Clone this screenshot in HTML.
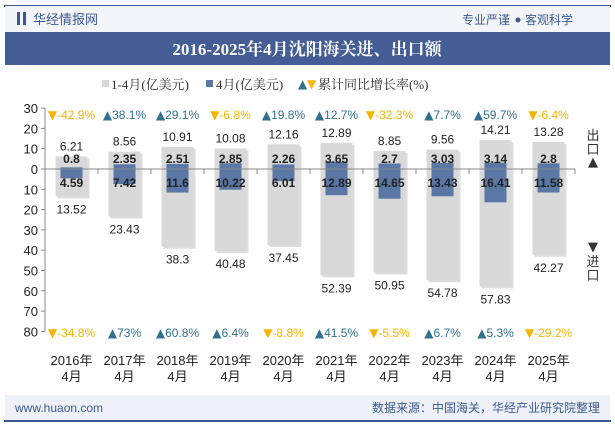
<!DOCTYPE html>
<html><head><meta charset="utf-8"><style>
body{margin:0;width:615px;height:427px;background:#fff;overflow:hidden;font-family:"Liberation Sans","Noto Sans CJK SC",sans-serif}
svg{position:absolute;left:0;top:0}
.tri{font-family:"DejaVu Sans",sans-serif}
</style></head><body>
<svg id="c" width="615" height="427">
<rect x="4" y="5" width="607" height="2" fill="#3d5a8f"/>
<rect x="5" y="6" width="605" height="26" fill="#f3f5fa"/>
<rect x="17" y="12" width="3" height="13" fill="#3d5a8f"/>
<rect x="23" y="12" width="3" height="13" fill="#3d5a8f"/>
<text x="33" y="24" font-size="13" fill="#3d5a8f">华经情报网</text>
<text x="510" y="24" font-size="12" fill="#3d5a8f" text-anchor="end">专业严谨</text>
<circle cx="518" cy="20" r="2.5" fill="#3d5a8f"/>
<text x="525" y="24" font-size="12" fill="#3d5a8f">客观科学</text>
<rect x="5" y="32" width="605" height="33" fill="#445d94"/>
<text x="307" y="55" font-size="17" font-weight="bold" fill="#fff" text-anchor="middle" font-family="Liberation Serif,Noto Serif CJK SC,serif">2016-2025年4月沈阳海关进、出口额</text>
<g font-family="Liberation Serif,Noto Serif CJK SC,serif">
<rect x="102" y="80" width="7" height="7" fill="#d9d9d9"/>
<text x="111" y="89" font-size="13" fill="#333">1-4月(亿美元)</text>
<rect x="206" y="80" width="7" height="7" fill="#5b77a5"/>
<text x="216" y="89" font-size="13" fill="#333">4月(亿美元)</text>
<text x="298" y="88" font-size="12" class="tri" fill="#31708f">▲</text>
<text x="307" y="88" font-size="12" class="tri" fill="#f7b500">▼</text>
<text x="318" y="89" font-size="13" fill="#333">累计同比增长率(%)</text>
</g>
<g id="plot"></g>
<text x="593" y="140" font-size="13" fill="#333" text-anchor="middle">出</text>
<text x="593" y="154" font-size="13" fill="#333" text-anchor="middle">口</text>
<text x="593" y="166" font-size="13" class="tri" fill="#333" text-anchor="middle">▲</text>
<text x="593" y="251" font-size="13" class="tri" fill="#333" text-anchor="middle">▼</text>
<text x="593" y="266" font-size="13" fill="#333" text-anchor="middle">进</text>
<text x="593" y="280" font-size="13" fill="#333" text-anchor="middle">口</text>
<rect x="5" y="395" width="605" height="25" fill="#eef1f8"/>
<rect x="4" y="420" width="607" height="2" fill="#3d5a8f"/>
<text x="15" y="412" font-size="12" fill="#3d5a8f">www.huaon.com</text>
<text x="600" y="412" font-size="12" fill="#3d5a8f" text-anchor="end">数据来源：中国海关，华经产业研究院整理</text>
</svg>
<script>
const years=["2016年","2017年","2018年","2019年","2020年","2021年","2022年","2023年","2024年","2025年"];
const ytdExport=[6.21,8.56,10.91,10.08,12.16,12.89,8.85,9.56,14.21,13.28];
const ytdImport=[13.52,23.43,38.3,40.48,37.45,52.39,50.95,54.78,57.83,42.27];
const monExport=[0.8,2.35,2.51,2.85,2.26,3.65,2.7,3.03,3.14,2.8];
const monImport=[4.59,7.42,11.6,10.22,6.01,12.89,14.65,13.43,16.41,11.58];
const expGrowth=[-42.9,38.1,29.1,-6.8,19.8,12.7,-32.3,7.7,59.7,-6.4];
const impGrowth=[-34.8,73,60.8,6.4,-8.8,41.5,-5.5,6.7,5.3,-29.2];
const yTicks=[30,20,10,0,10,20,30,40,50,60,70,80];
const NS="http://www.w3.org/2000/svg",g=document.getElementById('plot');
const x0=45,x1=575,y0=169,k=2.03;
const bw=(x1-x0)/years.length;
const cx=i=>x0+bw*(i+0.5);
const yv=v=>y0-v*k;
function el(t,a,txt,p){const e=document.createElementNS(NS,t);for(const n in a)e.setAttribute(n,a[n]);if(txt!=null)e.textContent=txt;(p||g).appendChild(e);return e;}
let e=el('line',{x1:x0,y1:yv(30),x2:x0,y2:yv(-80),stroke:'#888'});

yTicks.forEach((t,j)=>{const v=j<3?t:-t;
 let l=el('line',{x1:x0-4,y1:yv(v),x2:x0,y2:yv(v),stroke:'#888'});
 
 let tx=el('text',{x:x0-7,y:yv(v)+5,'font-size':13,fill:'#222','text-anchor':'end'},t);
 });
function growth(v,c,y){const col=v>=0?'#31708f':'#f7b500';
 const t=el('text',{x:c,y:y,'font-size':12,fill:col,'text-anchor':'middle'});
 
 el('tspan',{class:'tri','font-size':12},v>=0?'▲':'▼',t);
 el('tspan',{},v+'%',t);return t;}
years.forEach((yr,i)=>{const c=cx(i);
 let r=el('rect',{x:c-16+2,y:yv(ytdExport[i])+2,width:32,height:(ytdExport[i]+ytdImport[i])*k,fill:'#bbb',opacity:0.5});
 
 r=el('rect',{x:c-16,y:yv(ytdExport[i]),width:32,height:(ytdExport[i]+ytdImport[i])*k,fill:'#d9d9d9'});
 
 r=el('rect',{x:c-11,y:yv(monExport[i]),width:22,height:(monExport[i]+monImport[i])*k,fill:'#5b77a5'});
 
 let t=el('text',{x:c,y:yv(ytdExport[i])-6,'font-size':12,fill:'#222','text-anchor':'middle'},ytdExport[i]);
 
 t=el('text',{x:c,y:yv(-ytdImport[i])+17,'font-size':12,fill:'#222','text-anchor':'middle'},ytdImport[i]);
 
 t=el('text',{x:c,y:y0-6,'font-size':12,'font-weight':'bold',fill:'#222','text-anchor':'middle'},monExport[i]);
 
 t=el('text',{x:c,y:y0+18,'font-size':12,'font-weight':'bold',fill:'#222','text-anchor':'middle'},monImport[i]);
 
 growth(expGrowth[i],c,119);
 growth(impGrowth[i],c,337);
 t=el('text',{x:c,y:365,'font-size':13,fill:'#222','text-anchor':'middle'},yr);
 
 t=el('text',{x:c,y:381,'font-size':13,fill:'#222','text-anchor':'middle'},'4月');
 
 let l=el('line',{x1:x0+bw*(i+1),y1:y0,x2:x0+bw*(i+1),y2:y0+5,stroke:'#888'});
 
});
e=el('line',{x1:x0,y1:y0,x2:x1,y2:y0,stroke:'#888'});

</script>
</body></html>
